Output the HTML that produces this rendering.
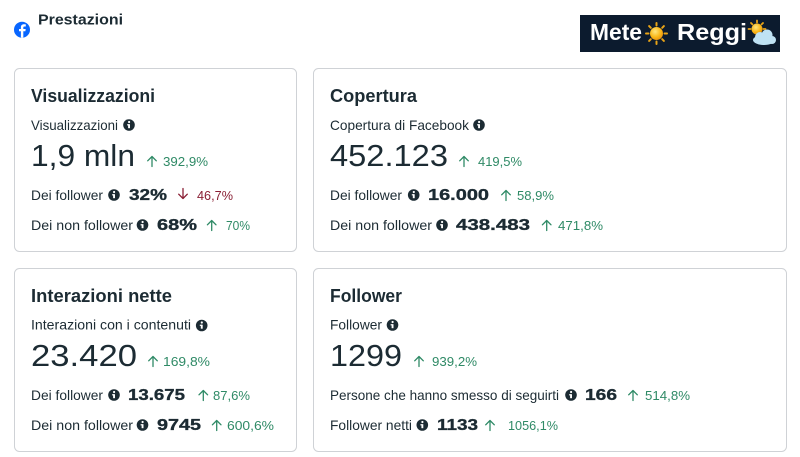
<!DOCTYPE html>
<html><head><meta charset="utf-8"><style>
html,body{margin:0;padding:0;background:#fff;}
svg{display:block;}
text{font-family:"Liberation Sans",sans-serif;}
.t{font-weight:bold;font-size:18px;fill:#1c2b33;}
.s{font-size:14px;fill:#1c2b33;}
.b{font-size:31px;fill:#1c2b33;}
.v{font-weight:bold;font-size:16px;fill:#1c2b33;stroke:#1c2b33;stroke-width:0.35;}
.g{font-size:13px;fill:#2f8a66;}
.r{font-size:13px;fill:#8a2035;}
</style></head><body>
<svg width="800" height="457" viewBox="0 0 800 457" xmlns="http://www.w3.org/2000/svg">
<defs>
<g id="info"><circle r="5.8" fill="#1c2b33"/><rect x="-0.9" y="-0.8" width="1.9" height="4" fill="#fff"/><rect x="-1.9" y="-0.8" width="2" height="1.2" fill="#fff"/><circle cx="0.1" cy="-3" r="1.1" fill="#fff"/></g>
<g id="up" fill="none" stroke="#2f8a66" stroke-width="1.3" stroke-linecap="round" stroke-linejoin="round"><path d="M0 -10 V0 M-4.3 -5.7 L0 -10 L4.3 -5.7"/></g>
<g id="dn" fill="none" stroke="#8a2035" stroke-width="1.3" stroke-linecap="round" stroke-linejoin="round"><path d="M0 -10 V0 M-4.3 -4.3 L0 0 L4.3 -4.3"/></g>
<radialGradient id="sun" cx="0.4" cy="0.35" r="0.7"><stop offset="0" stop-color="#ffe680"/><stop offset="0.6" stop-color="#f9b81a"/><stop offset="1" stop-color="#e88f0c"/></radialGradient>
</defs>

<!-- header -->
<circle cx="22" cy="29.7" r="8" fill="#0866ff"/>
<path d="M23.3 37.7 V31.3 H25.4 L25.7 29 H23.3 V27.6 C23.3 26.9 23.6 26.5 24.5 26.5 H25.8 V24.4 C25.3 24.3 24.6 24.3 24 24.3 C22.2 24.3 20.9 25.3 20.9 27.3 V29 H19 V31.3 H20.9 V37.6 Z" fill="#fff"/>
<text x="38" y="24.3" font-weight="bold" font-size="15" fill="#1c2b33" textLength="85" lengthAdjust="spacingAndGlyphs">Prestazioni</text>

<!-- logo -->
<rect x="580" y="15" width="200" height="37" fill="#0c1b2e"/>
<text x="590" y="40" font-weight="bold" font-size="23" fill="#fff" textLength="52" lengthAdjust="spacingAndGlyphs">Mete</text>
<g transform="translate(656.5,33.5)" stroke="#e8a317" stroke-width="2" stroke-linecap="round">
<line x1="0" y1="-8" x2="0" y2="-10.5"/><line x1="0" y1="8" x2="0" y2="10.5"/><line x1="-8" y1="0" x2="-10.5" y2="0"/><line x1="8" y1="0" x2="10.5" y2="0"/>
<line x1="5.7" y1="5.7" x2="7.4" y2="7.4"/><line x1="-5.7" y1="5.7" x2="-7.4" y2="7.4"/><line x1="5.7" y1="-5.7" x2="7.4" y2="-7.4"/><line x1="-5.7" y1="-5.7" x2="-7.4" y2="-7.4"/>
<circle r="6.5" fill="url(#sun)" stroke="none"/></g>
<text x="677" y="40" font-weight="bold" font-size="23" fill="#fff" textLength="70" lengthAdjust="spacingAndGlyphs">Reggi</text>
<g transform="translate(757,29)" stroke="#e8a317" stroke-width="1.8" stroke-linecap="round">
<line x1="0" y1="-6.5" x2="0" y2="-8.5"/><line x1="-6.5" y1="0" x2="-8.5" y2="0"/><line x1="-4.6" y1="-4.6" x2="-6" y2="-6"/><line x1="4.6" y1="-4.6" x2="6" y2="-6"/><line x1="6.5" y1="0" x2="8.5" y2="0"/>
<circle r="5.5" fill="url(#sun)" stroke="none"/></g>
<g fill="#bfe2f4"><ellipse cx="764" cy="40" rx="11" ry="5"/><circle cx="760" cy="37" r="5"/><circle cx="767" cy="35" r="5.5"/><circle cx="772" cy="40" r="4"/></g>

<!-- cards -->
<g fill="#fff" stroke="#cfd2d6" stroke-width="1">
<rect x="14.5" y="68.5" width="282" height="183" rx="5"/>
<rect x="313.5" y="68.5" width="473" height="183" rx="5"/>
<rect x="14.5" y="268.5" width="282" height="183" rx="5"/>
<rect x="313.5" y="268.5" width="473" height="183" rx="5"/>
</g>

<!-- card 1 -->
<text class="t" x="31" y="102" textLength="124" lengthAdjust="spacingAndGlyphs">Visualizzazioni</text>
<text class="s" x="31" y="130" textLength="87" lengthAdjust="spacingAndGlyphs">Visualizzazioni</text>
<use href="#info" x="129" y="125"/>
<text class="b" x="31" y="166" textLength="104" lengthAdjust="spacingAndGlyphs">1,9 mln</text>
<use href="#up" x="152" y="166.5"/>
<text class="g" x="163" y="166" textLength="45" lengthAdjust="spacingAndGlyphs">392,9%</text>
<text class="s" x="31" y="200" textLength="72" lengthAdjust="spacingAndGlyphs">Dei follower</text>
<use href="#info" x="114" y="195"/>
<text class="v" x="129" y="200" textLength="38" lengthAdjust="spacingAndGlyphs">32%</text>
<use href="#dn" x="183" y="198.5"/>
<text class="r" x="197" y="200" textLength="36" lengthAdjust="spacingAndGlyphs">46,7%</text>
<text class="s" x="31" y="230" textLength="102" lengthAdjust="spacingAndGlyphs">Dei non follower</text>
<use href="#info" x="142.5" y="225"/>
<text class="v" x="157" y="230" textLength="40" lengthAdjust="spacingAndGlyphs">68%</text>
<use href="#up" x="211.7" y="230.5"/>
<text class="g" x="226" y="230" textLength="24" lengthAdjust="spacingAndGlyphs">70%</text>

<!-- card 2 -->
<text class="t" x="330" y="102" textLength="87" lengthAdjust="spacingAndGlyphs">Copertura</text>
<text class="s" x="330" y="130" textLength="139" lengthAdjust="spacingAndGlyphs">Copertura di Facebook</text>
<use href="#info" x="479" y="125"/>
<text class="b" x="330" y="166" textLength="118" lengthAdjust="spacingAndGlyphs">452.123</text>
<use href="#up" x="464" y="166.5"/>
<text class="g" x="478" y="166" textLength="44" lengthAdjust="spacingAndGlyphs">419,5%</text>
<text class="s" x="330" y="200" textLength="72" lengthAdjust="spacingAndGlyphs">Dei follower</text>
<use href="#info" x="413.7" y="195"/>
<text class="v" x="428" y="200" textLength="61" lengthAdjust="spacingAndGlyphs">16.000</text>
<use href="#up" x="506" y="200.5"/>
<text class="g" x="517" y="200" textLength="37" lengthAdjust="spacingAndGlyphs">58,9%</text>
<text class="s" x="330" y="230" textLength="102" lengthAdjust="spacingAndGlyphs">Dei non follower</text>
<use href="#info" x="442" y="225"/>
<text class="v" x="456" y="230" textLength="74" lengthAdjust="spacingAndGlyphs">438.483</text>
<use href="#up" x="546.7" y="230.5"/>
<text class="g" x="558" y="230" textLength="45" lengthAdjust="spacingAndGlyphs">471,8%</text>

<!-- card 3 -->
<text class="t" x="31" y="302" textLength="141" lengthAdjust="spacingAndGlyphs">Interazioni nette</text>
<text class="s" x="31" y="329.5" textLength="160" lengthAdjust="spacingAndGlyphs">Interazioni con i contenuti</text>
<use href="#info" x="201.7" y="325.5"/>
<text class="b" x="31" y="366" textLength="106" lengthAdjust="spacingAndGlyphs">23.420</text>
<use href="#up" x="153" y="366.5"/>
<text class="g" x="163" y="366" textLength="47" lengthAdjust="spacingAndGlyphs">169,8%</text>
<text class="s" x="31" y="400" textLength="72" lengthAdjust="spacingAndGlyphs">Dei follower</text>
<use href="#info" x="114" y="395"/>
<text class="v" x="128" y="400" textLength="57" lengthAdjust="spacingAndGlyphs">13.675</text>
<use href="#up" x="203.3" y="400.5"/>
<text class="g" x="213" y="400" textLength="37" lengthAdjust="spacingAndGlyphs">87,6%</text>
<text class="s" x="31" y="430" textLength="102" lengthAdjust="spacingAndGlyphs">Dei non follower</text>
<use href="#info" x="142.5" y="425"/>
<text class="v" x="157" y="430" textLength="44" lengthAdjust="spacingAndGlyphs">9745</text>
<use href="#up" x="216.7" y="430.5"/>
<text class="g" x="227" y="430" textLength="47" lengthAdjust="spacingAndGlyphs">600,6%</text>

<!-- card 4 -->
<text class="t" x="330" y="302" textLength="72" lengthAdjust="spacingAndGlyphs">Follower</text>
<text class="s" x="330" y="329.5" textLength="52" lengthAdjust="spacingAndGlyphs">Follower</text>
<use href="#info" x="392.5" y="325"/>
<text class="b" x="330" y="366" textLength="72" lengthAdjust="spacingAndGlyphs">1299</text>
<use href="#up" x="419" y="366.5"/>
<text class="g" x="432" y="366" textLength="45" lengthAdjust="spacingAndGlyphs">939,2%</text>
<text class="s" x="330" y="400" textLength="229" lengthAdjust="spacingAndGlyphs">Persone che hanno smesso di seguirti</text>
<use href="#info" x="571" y="395"/>
<text class="v" x="585" y="400" textLength="32" lengthAdjust="spacingAndGlyphs">166</text>
<use href="#up" x="633" y="400.5"/>
<text class="g" x="645" y="400" textLength="45" lengthAdjust="spacingAndGlyphs">514,8%</text>
<text class="s" x="330" y="430" textLength="82" lengthAdjust="spacingAndGlyphs">Follower netti</text>
<use href="#info" x="422.3" y="425"/>
<text class="v" x="437" y="430" textLength="41" lengthAdjust="spacingAndGlyphs">1133</text>
<use href="#up" x="490" y="430.5"/>
<text class="g" x="508" y="430" textLength="50" lengthAdjust="spacingAndGlyphs">1056,1%</text>
</svg>
</body></html>
